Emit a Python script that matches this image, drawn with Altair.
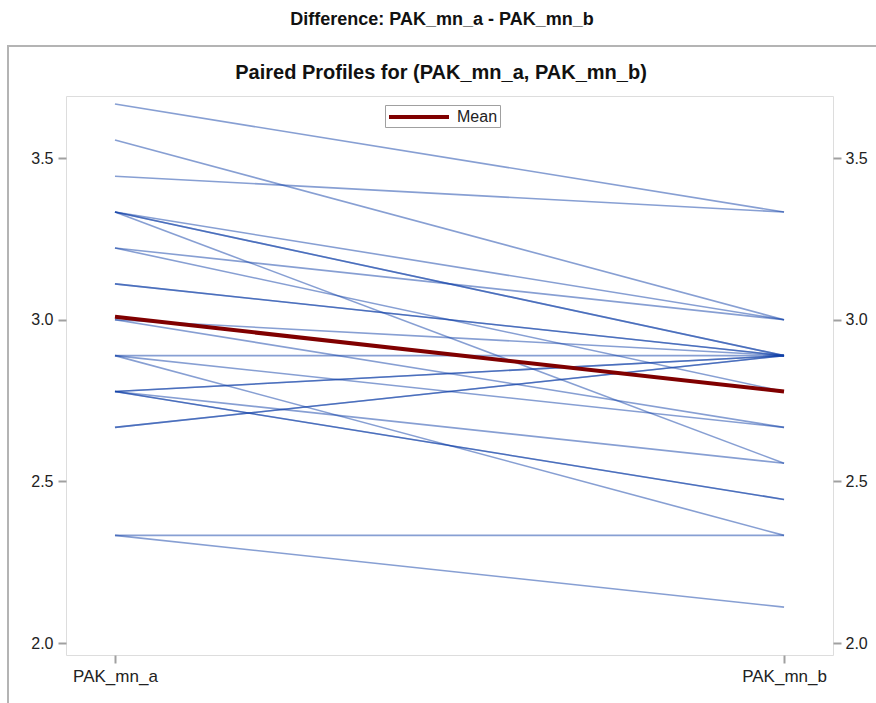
import altair as alt
import pandas as pd

# ---- data ----
subject = list(range(1, 26))
pak_mn_a = [3.667, 3.556, 3.444, 3.333, 3.333, 3.333, 3.333, 3.222, 3.222,
            3.111, 3.111, 3.0, 3.0, 2.889, 2.889, 2.889, 2.778, 2.778, 2.778,
            2.778, 2.778, 2.667, 2.667, 2.333, 2.333]
pak_mn_b = [3.333, 3.0, 3.333, 3.0, 2.889, 2.889, 2.556, 3.0, 2.778,
            2.889, 2.889, 2.889, 2.667, 2.889, 2.667, 2.333, 2.889, 2.889, 2.444,
            2.444, 2.556, 2.889, 2.889, 2.333, 2.111]
variables = ["PAK_mn_a", "PAK_mn_b"]
y_ticks = [2.0, 2.5, 3.0, 3.5]
y_domain = [1.963, 3.692]

main_title = "Difference:  PAK_mn_a - PAK_mn_b"
sub_title = "Paired Profiles for (PAK_mn_a, PAK_mn_b)"

wide = pd.DataFrame({"subject": subject, "PAK_mn_a": pak_mn_a, "PAK_mn_b": pak_mn_b})
df = wide.melt(id_vars="subject", value_vars=variables, var_name="variable", value_name="value")
titles = pd.DataFrame({"t": [main_title, sub_title],
                       "kind": ["main", "sub"]})

FONT = "Liberation Sans"
GRAY = "#a0a0a0"
W, H = 767, 559

x_enc = alt.X(
    "variable:N",
    sort=variables,
    scale=alt.Scale(type="point", padding=0.0732),
    axis=alt.Axis(title=None, domain=False, ticks=True, tickSize=8, tickWidth=2,
                  tickColor=GRAY, labelFontSize=17, labelFont=FONT, labelColor="#222",
                  labelPadding=5, labelAngle=0, grid=False),
)

base = alt.Chart(df)

profiles = base.mark_line(color="#1040A8", opacity=0.5, strokeWidth=1.6).encode(
    x=x_enc,
    y=alt.Y("value:Q", scale=alt.Scale(domain=y_domain, nice=False, zero=False),
            axis=alt.Axis(title=None, orient="left", values=y_ticks, format=".1f",
                          domain=False, grid=False, tickSize=8, tickWidth=2, tickColor=GRAY,
                          labelFontSize=16, labelFont=FONT, labelColor="#222", labelPadding=5)),
    detail="subject:N",
)

mean_line = base.transform_aggregate(
    value="mean(value)", groupby=["variable"]
).transform_calculate(series="'Mean'").mark_line(strokeWidth=4).encode(
    x=x_enc,
    y=alt.Y("value:Q", scale=alt.Scale(domain=y_domain, nice=False, zero=False),
            axis=alt.Axis(title=None, orient="right", values=y_ticks, format=".1f",
                          domain=False, grid=False, tickSize=8, tickWidth=2, tickColor=GRAY,
                          labelFontSize=16, labelFont=FONT, labelColor="#222", labelPadding=4)),
    color=alt.Color("series:N", scale=alt.Scale(domain=["Mean"], range=["#800000"]),
                    legend=alt.Legend(title=None, orient="none", legendX=319, legendY=9,
                                      symbolType="M-1,0H6.5", symbolStrokeWidth=4, symbolSize=256,
                                      labelFontSize=16, labelFont=FONT, labelColor="#222",
                                      labelOffset=50, strokeColor=GRAY, fillColor="white",
                                      padding=2)),
)

frame = alt.Chart(pd.DataFrame({"k": [0]})).mark_rect(
    fill="transparent", stroke="#b4b4b4", strokeWidth=2
).encode(x=alt.value(-58), x2=alt.value(900), y=alt.value(-50), y2=alt.value(700))

main_text = alt.Chart(titles).transform_filter("datum.kind == 'main'").mark_text(
    font=FONT, fontSize=18, fontWeight="bold", color="#111", align="center",
    baseline="alphabetic"
).encode(text="t:N", x=alt.value(376), y=alt.value(-71))

sub_text = alt.Chart(titles).transform_filter("datum.kind == 'sub'").mark_text(
    font=FONT, fontSize=20, fontWeight="bold", color="#111", align="center",
    baseline="alphabetic"
).encode(text="t:N", x=alt.value(375), y=alt.value(-17))

chart = alt.layer(frame, profiles, mean_line, main_text, sub_text).resolve_axis(
    y="independent"
).properties(
    width=W, height=H,
    autosize=alt.AutoSizeParams(type="none"),
    padding={"left": 66, "top": 96, "right": 43, "bottom": 48},
).configure_view(stroke=GRAY, strokeWidth=2).configure(background="white")

chart.save("out.html", embed_options={"renderer": "svg", "actions": False})
